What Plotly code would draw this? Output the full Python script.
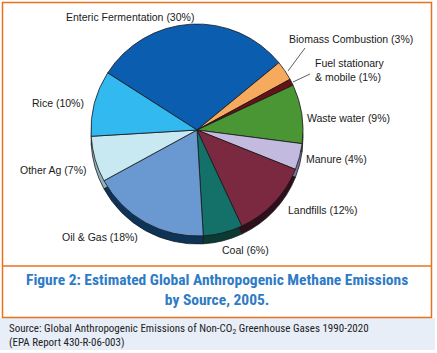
import plotly.graph_objects as go

W, H = 437, 353

sources = ["Enteric Fermentation", "Biomass Combustion", "Fuel stationary & mobile",
           "Waste water", "Manure", "Landfills", "Coal", "Oil & Gas", "Other Ag", "Rice"]
shares = [30, 3, 1, 9, 4, 12, 6, 18, 7, 10]
colors = ["#0b5db0", "#f6aa5e", "#6a1019", "#4a9534", "#c2bbdf", "#7b2841",
          "#147169", "#6a98d0", "#c9e9f2", "#31b9f0"]
shadow_colors = ["#063566", "#a06a30", "#3a080d", "#2a5a1c", "#7a7598", "#2e0f1b",
                 "#0b3a33", "#0d3358", "#8fb3bf", "#1a6f96"]
label_texts = ["Enteric Fermentation (30%)", "Biomass Combustion (3%)",
               "Fuel stationary<br>& mobile (1%)", "Waste water (9%)", "Manure (4%)",
               "Landfills (12%)", "Coal (6%)", "Oil & Gas (18%)", "Other Ag (7%)", "Rice (10%)"]

def px(x):
    return x / W

def py(y):
    return 1 - y / H

cx, cy, r = 197, 130, 106
depth = 8

fig = go.Figure()
fig.add_trace(go.Pie(
    labels=sources, values=shares, sort=False, direction="clockwise", rotation=-57.4,
    marker=dict(colors=shadow_colors, line=dict(color="#1a1a1a", width=0.8)),
    textinfo="none", hoverinfo="skip", showlegend=False,
    domain=dict(x=[px(cx - r), px(cx + r)], y=[py(cy + r + depth), py(cy - r + depth)]),
))
fig.add_trace(go.Pie(
    labels=sources, values=shares, sort=False, direction="clockwise", rotation=-57.4,
    marker=dict(colors=colors, line=dict(color="#1a1a1a", width=0.8)),
    textinfo="none", showlegend=False,
    domain=dict(x=[px(cx - r), px(cx + r)], y=[py(cy + r), py(cy - r)]),
))

label_pos = [
    (130, 17, "center"), (351, 39, "center"), (313, 70, "left"), (348, 118, "center"),
    (336, 159, "center"), (322, 210, "center"), (246, 250, "center"), (100, 237, "center"),
    (53, 170, "center"), (58, 103, "center"),
]
ann = []
for t, (x, y, a) in zip(label_texts, label_pos):
    ann.append(dict(x=px(x), y=py(y), xref="paper", yref="paper", text=t, showarrow=False,
                    xanchor=a, yanchor="middle", align="left",
                    font=dict(family="Liberation Sans, Arial", size=10.5, color="#1a1a1a")))

ann.append(dict(x=px(217), y=py(290), xref="paper", yref="paper", showarrow=False,
                text="<b>Figure 2: Estimated Global Anthropogenic Methane Emissions<br>by Source, 2005.</b>",
                xanchor="center", yanchor="middle", align="center",
                font=dict(family="Roboto Condensed, Roboto", size=15.5, color="#2e7bc6")))
ann.append(dict(x=px(7), y=py(335), xref="paper", yref="paper", showarrow=False,
                text="Source: Global Anthropogenic Emissions of Non-CO<sub>2</sub> Greenhouse Gases 1990-2020<br>(EPA Report 430-R-06-003)",
                xanchor="left", yanchor="middle", align="left",
                font=dict(family="Roboto Condensed, Roboto", size=11, color="#222222")))

orange = "#e8731e"
shapes = [
    dict(type="rect", xref="paper", yref="paper", x0=0, x1=px(435), y0=py(350), y1=py(318),
         fillcolor="#e8eef8", line=dict(width=0), layer="below"),
    dict(type="rect", xref="paper", yref="paper", x0=px(2.5), x1=px(431.5), y0=py(317.5), y1=py(2.5),
         fillcolor="rgba(0,0,0,0)", line=dict(color=orange, width=1.5)),
    dict(type="line", xref="paper", yref="paper", x0=px(2.5), x1=px(431.5), y0=py(266), y1=py(266),
         line=dict(color=orange, width=1.5)),
    dict(type="line", xref="paper", yref="paper", x0=px(288), x1=px(305), y0=py(71), y1=py(48),
         line=dict(color="#333333", width=0.8)),
    dict(type="line", xref="paper", yref="paper", x0=px(293), x1=px(310), y0=py(82), y1=py(74),
         line=dict(color="#333333", width=0.8)),
]

fig.update_layout(width=W, height=H, margin=dict(l=0, r=0, t=0, b=0),
                  paper_bgcolor="white", plot_bgcolor="white",
                  annotations=ann, shapes=shapes)
fig.write_html("out.html")
